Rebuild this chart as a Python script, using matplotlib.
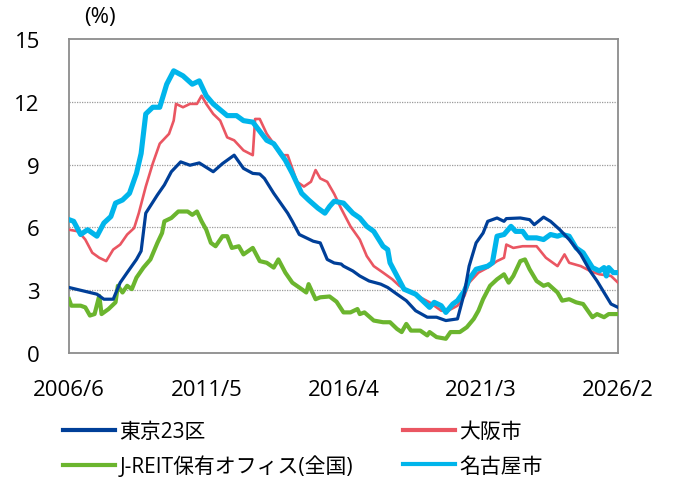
import matplotlib
matplotlib.use("Agg")
import matplotlib.pyplot as plt

plt.rcParams['font.family'] = ['Open Sans', 'Noto Sans CJK JP', 'DejaVu Sans']

# x = months elapsed since 2006/6
tokyo_m = [0, 6, 9, 12, 15, 19, 22, 25, 29, 31, 33, 38, 41, 44, 48, 52, 56, 62, 66, 71, 75, 79, 82, 84, 88, 94, 96, 99, 105, 108, 111, 114, 117,
           118, 122, 125, 129, 134, 137, 141, 145, 149, 154, 158, 162, 167, 170, 172, 175, 178, 180, 184, 187, 188, 194, 198, 200, 204, 207,
           211, 215, 220, 224, 227, 230, 233, 236]
tokyo_v = [3.13, 2.97, 2.89, 2.81, 2.57, 2.57, 3.36, 3.84, 4.47, 4.87, 6.68, 7.55, 8.03, 8.66, 9.13, 8.97, 9.08, 8.66, 9.05, 9.45, 8.82, 8.58, 8.55, 8.34, 7.63, 6.68, 6.29, 5.66, 5.34, 5.26, 4.47, 4.30, 4.25,
           4.15, 3.92, 3.68, 3.44, 3.29, 3.13, 2.81, 2.50, 2.02, 1.71, 1.71, 1.55, 1.63, 2.89, 4.15, 5.26, 5.73, 6.29, 6.45, 6.29, 6.42, 6.45, 6.37, 6.13, 6.49, 6.29,
           5.89, 5.42, 4.71, 3.92, 3.44, 2.89, 2.34, 2.18]

osaka_m = [0, 4, 7, 10, 13, 16, 19, 22, 25, 28, 30, 33, 36, 39, 43, 45, 46, 49, 52, 55, 57, 59, 62, 65, 68, 71, 75, 79, 80, 82, 85, 88, 91, 94,
           98, 101, 104, 106, 108, 111, 114, 117, 121, 125, 128, 131, 135, 139, 142, 147, 151, 155, 160, 163, 167, 170, 172, 176, 180, 184,
           187, 188, 191, 195, 201, 205, 210, 213, 215, 220, 224, 228, 233, 236]
osaka_v = [5.89, 5.81, 5.42, 4.79, 4.55, 4.39, 4.94, 5.18, 5.66, 5.97, 6.68, 7.95, 9.05, 10.0, 10.47, 11.1, 11.9, 11.74, 11.9, 11.9, 12.29, 11.9, 11.42, 11.1, 10.3, 10.16, 9.68, 9.45, 11.18, 11.18, 10.47, 10.0, 9.45, 9.45,
           8.18, 7.95, 8.18, 8.74, 8.34, 8.18, 7.6, 6.9, 6.05, 5.42, 4.63, 4.15, 3.84, 3.52, 3.21, 2.89, 2.66, 2.42, 2.02, 2.02, 2.26, 2.73, 3.36, 3.84, 4.08, 4.39,
           4.55, 5.18, 5.02, 5.10, 5.10, 4.55, 4.15, 4.71, 4.31, 4.15, 3.92, 3.76, 3.68, 3.36]

nagoya_m = [0, 2, 5, 8, 12, 15, 18, 20, 23, 26, 29, 31, 33, 36, 39, 42, 45, 49, 53, 56, 59, 62, 68, 72, 75, 79, 85, 88, 93, 96, 100, 103, 107,
            110, 112, 114, 118, 122, 125, 128, 131, 135, 137, 138, 141, 144, 149, 152, 155, 157, 160, 162, 165, 167, 170, 172, 175, 180, 182,
            184, 187, 190, 192, 195, 197, 201, 204, 207, 210, 212, 215, 218, 221, 225, 228, 230, 231, 232, 234, 236]
nagoya_v = [6.37, 6.29, 5.66, 5.89, 5.58, 6.21, 6.52, 7.16, 7.31, 7.63, 8.58, 9.53, 11.42, 11.74, 11.74, 12.84, 13.48, 13.24, 12.84, 13.0, 12.29, 11.9, 11.34, 11.34, 11.1, 11.03, 10.16, 10.0, 9.21, 8.58, 7.63, 7.31, 6.92,
            6.68, 7.0, 7.25, 7.16, 6.68, 6.45, 6.05, 5.81, 5.10, 4.94, 4.31, 3.68, 3.05, 2.81, 2.50, 2.18, 2.42, 2.26, 1.94, 2.34, 2.50, 2.97, 3.52, 4.0, 4.15, 4.31,
            5.58, 5.66, 6.05, 5.81, 5.81, 5.50, 5.50, 5.42, 5.66, 5.58, 5.66, 5.58, 5.02, 4.79, 4.08, 3.92, 4.08, 3.68, 4.08, 3.84, 3.84]

jreit_m = [0, 1, 5, 7, 9, 11, 13, 14, 17, 20, 21, 23, 25, 27, 29, 32, 35, 38, 40, 41, 44, 47, 51, 53, 55, 57, 59, 61, 63, 66, 68, 70, 73, 75,
           79, 82, 85, 88, 90, 93, 96, 100, 102, 103, 106, 108, 112, 115, 118, 121, 124, 125, 127, 131, 135, 138, 141, 143, 145, 147, 151,
           154, 155, 158, 162, 164, 168, 171, 174, 176, 178, 181, 184, 187, 189, 191, 194, 196, 198, 201, 204, 206, 210, 212, 215, 218, 221,
           225, 227, 230, 232, 236]
jreit_v = [2.57, 2.26, 2.26, 2.18, 1.79, 1.86, 2.73, 1.86, 2.10, 2.42, 3.21, 2.89, 3.21, 3.05, 3.60, 4.08, 4.47, 5.26, 5.73, 6.29, 6.45, 6.76, 6.76, 6.60, 6.76, 6.29, 5.89, 5.26, 5.10, 5.58, 5.58, 5.02, 5.10, 4.71,
           5.02, 4.39, 4.31, 4.08, 4.47, 3.84, 3.36, 3.05, 2.89, 3.29, 2.57, 2.66, 2.70, 2.45, 1.94, 1.94, 2.10, 1.86, 1.94, 1.55, 1.47, 1.47, 1.15, 1.0, 1.39, 1.07, 1.07,
           0.84, 1.0, 0.76, 0.68, 1.0, 1.0, 1.23, 1.63, 2.02, 2.57, 3.21, 3.52, 3.76, 3.36, 3.68, 4.39, 4.47, 4.0, 3.44, 3.21, 3.29, 2.89, 2.50, 2.57, 2.42, 2.34,
           1.71, 1.86, 1.71, 1.86, 1.86]

labels = ['東京23区', '大阪市', 'J-REIT保有オフィス(全国)', '名古屋市']
colors = ['#003f98', '#ea5662', '#6bb52e', '#00b5eb']

xtick_labels = ['2006/6', '2011/5', '2016/4', '2021/3', '2026/2']
xtick_pos = [0, 59, 118, 177, 236]
yticks = [0, 3, 6, 9, 12, 15]

fig = plt.figure(figsize=(6.76, 4.81), dpi=100)
ax = fig.add_axes([69/676, 127/481, 549/676, 314/481])

l_jr, = ax.plot(jreit_m, jreit_v, color=colors[2], lw=3.0, solid_joinstyle='round', zorder=3)
l_os, = ax.plot(osaka_m, osaka_v, color=colors[1], lw=1.9, solid_joinstyle='round', zorder=4)
l_ng, = ax.plot(nagoya_m, nagoya_v, color=colors[3], lw=3.7, solid_joinstyle='round', zorder=5)
l_tk, = ax.plot(tokyo_m, tokyo_v, color=colors[0], lw=2.3, solid_joinstyle='round', zorder=6)

ax.set_xlim(xtick_pos[0], xtick_pos[-1])
ax.set_ylim(0, 15)
ax.set_yticks(yticks)
ax.set_yticklabels([str(v) for v in yticks], fontsize=16)
ax.tick_params(axis='y', length=0, pad=21)
for y in yticks[1:-1]:
    ax.axhline(y, color='#9a9a9a', lw=0.9, ls=(0, (1, 1)), zorder=1)

ax.set_xticks(xtick_pos)
ax.set_xticklabels(xtick_labels, fontsize=16)
ax.tick_params(axis='x', which='major', length=0, pad=19)
ax.set_xticks(xtick_pos[1:-1], minor=True)
ax.tick_params(axis='x', which='minor', direction='in', length=8, width=1.8, color='#bdbdbd')

for s in ax.spines.values():
    s.set_color('#8c8c8c')
    s.set_linewidth(1.3)

fig.text(100/676, 1 - 18/481, '(%)', ha='center', va='center', fontsize=16)

leg_kw = dict(loc='upper left', frameon=False, fontsize=15, borderpad=0, borderaxespad=0,
              handlelength=2.5, handletextpad=0.2, labelspacing=0.65)
leg1 = fig.legend([l_tk, l_jr], [labels[0], labels[2]], bbox_to_anchor=(63/676, 1 - 422/481), **leg_kw)
leg2 = fig.legend([l_os, l_ng], [labels[1], labels[3]], bbox_to_anchor=(403/676, 1 - 422/481), **leg_kw)
for leg in (leg1, leg2):
    for line in leg.get_lines():
        line.set_linewidth(3.0)

fig.savefig('out.png', dpi=100)
